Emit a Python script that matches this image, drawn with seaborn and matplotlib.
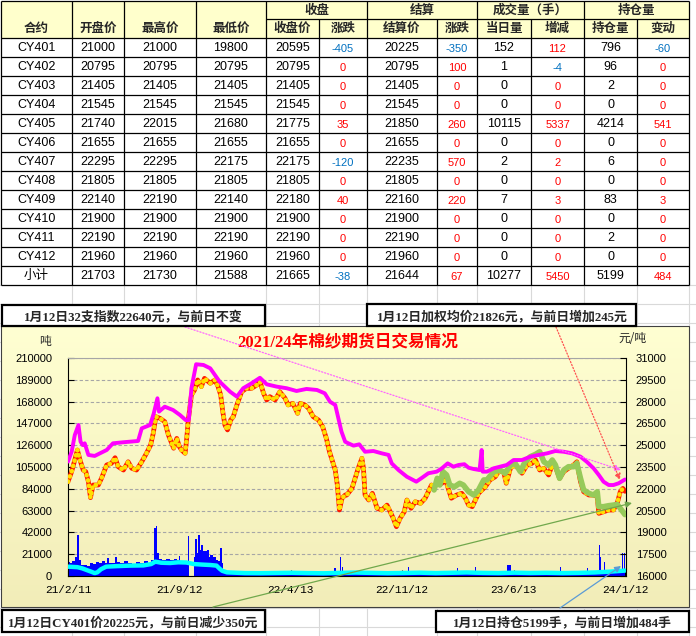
import numpy as np
import pandas as pd
import matplotlib
matplotlib.use("Agg")
import matplotlib.pyplot as plt
import matplotlib.dates as mdates
from matplotlib.patches import Rectangle
from matplotlib.colors import LinearSegmentedColormap
import seaborn as sns

# ---------------- DATA : table ----------------
contracts = ["CY401", "CY402", "CY403", "CY404", "CY405", "CY406", "CY407",
             "CY408", "CY409", "CY410", "CY411", "CY412", "小计"]
open_px = [21000, 20795, 21405, 21545, 21740, 21655, 22295, 21805, 22140, 21900, 22190, 21960, 21703]
high_px = [21000, 20795, 21405, 21545, 22015, 21655, 22295, 21805, 22190, 21900, 22190, 21960, 21730]
low_px = [19800, 20795, 21405, 21545, 21680, 21655, 22175, 21805, 22140, 21900, 22190, 21960, 21588]
close_px = [20595, 20795, 21405, 21545, 21775, 21655, 22175, 21805, 22180, 21900, 22190, 21960, 21665]
close_chg = [-405, 0, 0, 0, 35, 0, -120, 0, 40, 0, 0, 0, -38]
settle_px = [20225, 20795, 21405, 21545, 21850, 21655, 22235, 21805, 22160, 21900, 22190, 21960, 21644]
settle_chg = [-350, 100, 0, 0, 260, 0, 570, 0, 220, 0, 0, 0, 67]
volume = [152, 1, 0, 0, 10115, 0, 2, 0, 7, 0, 0, 0, 10277]
volume_chg = [112, -4, 0, 0, 5337, 0, 2, 0, 3, 0, 0, 0, 5450]
open_int = [796, 96, 2, 0, 4214, 0, 6, 0, 83, 0, 2, 0, 5199]
open_int_chg = [-60, 0, 0, 0, 541, 0, 0, 0, 3, 0, 0, 0, 484]

group_headers = ["收盘", "结算", "成交量（手）", "持仓量"]
col_headers = ["合约", "开盘价", "最高价", "最低价", "收盘价", "涨跌", "结算价", "涨跌",
               "当日量", "增减", "持仓量", "变动"]

# ---------------- DATA : chart texts ----------------
title = "2021/24年棉纱期货日交易情况"
note_index = "1月12日32支指数22640元，与前日不变"
note_avg = "1月12日加权均价21826元，与前日增加245元"
note_cy401 = "1月12日CY401价20225元，与前日减少350元"
note_oi = "1月12日持仓5199手，与前日增加484手"
left_unit = "吨"
right_unit = "元/吨"
xtick_dates = ["2021-02-11", "2021-09-12", "2022-04-13", "2022-11-12", "2023-06-13", "2024-01-12"]
xtick_labels = ["21/2/11", "21/9/12", "22/4/13", "22/11/12", "23/6/13", "24/1/12"]
vol_ticks = [0, 21000, 42000, 63000, 84000, 105000, 126000, 147000, 168000, 189000, 210000]
price_ticks = [16000, 17500, 19000, 20500, 22000, 23500, 25000, 26500, 28000, 29500, 31000]

# ---------------- DATA : 32支指数 (magenta, 元/吨) ----------------
idx_dates = ["2021-02-11", "2021-02-18", "2021-02-24", "2021-03-03", "2021-03-07", "2021-03-11",
             "2021-03-15", "2021-03-22", "2021-04-03", "2021-04-13", "2021-04-26", "2021-05-08",
             "2021-05-27", "2021-06-25", "2021-07-02", "2021-07-18", "2021-07-25", "2021-08-01",
             "2021-08-04", "2021-08-15", "2021-08-31", "2021-09-13", "2021-09-24", "2021-09-30",
             "2021-10-05", "2021-10-14", "2021-10-28", "2021-11-10", "2021-11-28", "2021-12-18",
             "2021-12-31", "2022-01-12", "2022-01-28", "2022-02-13", "2022-02-26", "2022-03-17",
             "2022-04-05", "2022-04-24", "2022-05-13", "2022-06-02", "2022-06-17", "2022-06-27",
             "2022-07-07", "2022-07-13", "2022-07-19", "2022-07-26", "2022-08-01", "2022-08-11",
             "2022-08-22", "2022-09-02", "2022-09-18", "2022-10-04", "2022-10-17", "2022-10-23",
             "2022-11-05", "2022-11-21", "2022-12-09", "2022-12-20", "2023-01-01", "2023-01-17",
             "2023-01-27", "2023-02-07", "2023-02-18", "2023-02-28", "2023-03-11", "2023-03-19",
             "2023-03-29", "2023-04-09", "2023-04-13", "2023-04-15", "2023-04-23", "2023-05-06",
             "2023-05-18", "2023-05-31", "2023-06-13", "2023-06-29", "2023-07-15", "2023-07-31",
             "2023-08-16", "2023-09-01", "2023-09-17", "2023-10-03", "2023-10-19", "2023-10-31",
             "2023-11-13", "2023-11-23", "2023-12-02", "2023-12-12", "2023-12-21", "2023-12-31",
             "2024-01-12"]
idx_vals = [23870, 24550, 25700, 26390, 25240, 25010,
            25130, 24330, 24260, 24440, 24670, 25130,
            25200, 25290, 26160, 26390, 27190, 28230,
            27310, 27650, 27420, 27080, 26730, 26730,
            28920, 30570, 30520, 30290, 29370, 28680,
            28340, 28920, 29260, 29640, 29190, 29030,
            28920, 28730, 28870, 28800, 28570, 27990,
            27770, 26850, 25930, 25240, 25130, 24970,
            25060, 24550, 24600, 24440, 24330, 23750,
            23290, 22830, 22490, 22760, 23070, 23180,
            23410, 23750, 23520, 23640, 23690, 23450,
            23360, 23290, 24670, 23180, 23180, 23410,
            23520, 23640, 23980, 23980, 24210, 24330,
            24440, 24600, 24550, 24440, 24210, 23860,
            23410, 22950, 22490, 22260, 22260, 22380,
            22640]

# ---------------- DATA : 期货加权均价 (red / yellow, 元/吨) ----------------
avg_dates = ["2021-02-11", "2021-02-18", "2021-02-24", "2021-03-01", "2021-03-06", "2021-03-12",
             "2021-03-17", "2021-03-22", "2021-03-26", "2021-03-31", "2021-04-10", "2021-04-16",
             "2021-04-26", "2021-05-05", "2021-05-12", "2021-05-18", "2021-05-28", "2021-06-06",
             "2021-06-13", "2021-06-22", "2021-07-02", "2021-07-11", "2021-07-19", "2021-07-24",
             "2021-07-29", "2021-08-06", "2021-08-15", "2021-08-22", "2021-09-01", "2021-09-07",
             "2021-09-12", "2021-09-16", "2021-09-23", "2021-09-26", "2021-09-29", "2021-10-05",
             "2021-10-11", "2021-10-17", "2021-10-24", "2021-10-30", "2021-11-10", "2021-11-19",
             "2021-11-25", "2021-11-30", "2021-12-04", "2021-12-08", "2021-12-13", "2021-12-19",
             "2021-12-24", "2021-12-31", "2022-01-09", "2022-01-18", "2022-01-28", "2022-02-07",
             "2022-02-13", "2022-02-20", "2022-02-26", "2022-03-04", "2022-03-14", "2022-03-23",
             "2022-04-02", "2022-04-08", "2022-04-17", "2022-04-26", "2022-05-01", "2022-05-10",
             "2022-05-17", "2022-05-26", "2022-06-05", "2022-06-13", "2022-06-20", "2022-06-26",
             "2022-07-02", "2022-07-07", "2022-07-11", "2022-07-15", "2022-07-20", "2022-07-26",
             "2022-07-29", "2022-08-08", "2022-08-14", "2022-08-20", "2022-08-27", "2022-08-30",
             "2022-09-02", "2022-09-09", "2022-09-16", "2022-09-25", "2022-10-04", "2022-10-14",
             "2022-10-20", "2022-10-26", "2022-11-01", "2022-11-08", "2022-11-16", "2022-11-21",
             "2022-11-29", "2022-12-07", "2022-12-17", "2022-12-26", "2023-01-01", "2023-01-07",
             "2023-01-13", "2023-01-20", "2023-01-27", "2023-02-02", "2023-02-08", "2023-02-14",
             "2023-02-24", "2023-03-06", "2023-03-13", "2023-03-19", "2023-03-26", "2023-04-01",
             "2023-04-07", "2023-04-17", "2023-04-20", "2023-04-29", "2023-05-09", "2023-05-15",
             "2023-05-25", "2023-05-30", "2023-06-07", "2023-06-13", "2023-06-23", "2023-06-29",
             "2023-07-09", "2023-07-18", "2023-07-25", "2023-08-02", "2023-08-10", "2023-08-19",
             "2023-08-26", "2023-09-01", "2023-09-09", "2023-09-17", "2023-09-26", "2023-10-06",
             "2023-10-12", "2023-10-19", "2023-10-25", "2023-11-04", "2023-11-13", "2023-11-20",
             "2023-11-23", "2023-12-02", "2023-12-12", "2023-12-21", "2023-12-29", "2024-01-03",
             "2024-01-08", "2024-01-12"]
avg_vals = [22490, 23180, 23980, 24670, 23980, 23290,
            23180, 22490, 21390, 22260, 22260, 22720,
            23640, 23750, 24140, 23520, 23290, 23860,
            23410, 23290, 23860, 24440, 25010, 25820,
            26960, 26850, 26620, 25700, 24790, 25470,
            24900, 24670, 24440, 25470, 26730, 28450,
            28800, 29490, 29030, 29600, 29260, 29490,
            29030, 28450, 27300, 26390, 26050, 26730,
            26960, 27770, 28680, 28910, 28910, 29140,
            29370, 28570, 28110, 28340, 28110, 28680,
            28230, 27770, 27880, 27190, 27880, 27770,
            27540, 26960, 26730, 26270, 25470, 24550,
            23860, 23290, 22260, 20540, 21350, 21570,
            21570, 22030, 22720, 23410, 24100, 23410,
            21570, 21230, 21690, 20660, 20540, 20880,
            20420, 19970, 19390, 19970, 20420, 21230,
            20660, 21110, 21000, 21350, 21800, 22260,
            22140, 22490, 22380, 22720, 22030, 21350,
            21570, 21690, 21350, 20880, 20770, 21230,
            21690, 22030, 22140, 22610, 22830, 23180,
            23180, 22380, 23410, 23640, 23410, 23070,
            23640, 23750, 23980, 23290, 23410, 22950,
            23640, 23520, 22720, 23180, 23410, 23640,
            23860, 22490, 21800, 21570, 21570, 21460,
            20310, 20420, 20540, 20540, 21110, 21800,
            22030, 21826]

# ---------------- DATA : CY401 (green, 元/吨) ----------------
cy401_dates = ["2023-01-12", "2023-01-18", "2023-01-23", "2023-01-29", "2023-02-05", "2023-02-11",
               "2023-02-20", "2023-03-02", "2023-03-09", "2023-03-19", "2023-03-29", "2023-04-07",
               "2023-04-17", "2023-04-23", "2023-05-06", "2023-05-18", "2023-05-28", "2023-06-07",
               "2023-06-16", "2023-06-26", "2023-07-05", "2023-07-15", "2023-07-25", "2023-08-02",
               "2023-08-10", "2023-08-19", "2023-08-26", "2023-09-01", "2023-09-09", "2023-09-17",
               "2023-09-26", "2023-10-06", "2023-10-12", "2023-10-19", "2023-10-25", "2023-11-04",
               "2023-11-13", "2023-11-20", "2023-11-23", "2023-12-02", "2023-12-12", "2023-12-21",
               "2023-12-28", "2024-01-03", "2024-01-12"]
cy401_vals = [21920, 22720, 22260, 23180, 22950, 22260,
              22140, 22380, 22260, 21800, 21570, 21920,
              22610, 22610, 23180, 23290, 23070, 23640,
              23750, 23180, 23860, 24210, 24370, 24550,
              23860, 23640, 23980, 23640, 22720, 23290,
              23520, 23520, 23750, 22720, 21920, 21690,
              21570, 21800, 20770, 20770, 20840, 20880,
              20930, 20660, 20225]

# ---------------- DATA : 成交量 (blue bars, left axis) ----------------
vol_dates = ["2021-02-11", "2021-02-15", "2021-02-19", "2021-02-24", "2021-03-01", "2021-03-04",
             "2021-03-08", "2021-03-14", "2021-03-19", "2021-03-25", "2021-03-31", "2021-04-05",
             "2021-04-11", "2021-04-17", "2021-04-23", "2021-04-26", "2021-04-30", "2021-05-06",
             "2021-05-12", "2021-05-15", "2021-05-21", "2021-05-29", "2021-06-06", "2021-06-13",
             "2021-06-21", "2021-06-29", "2021-07-06", "2021-07-14", "2021-07-20", "2021-07-26",
             "2021-07-29", "2021-08-01", "2021-08-04", "2021-08-10", "2021-08-17", "2021-08-25",
             "2021-09-02", "2021-09-07", "2021-09-11", "2021-09-14", "2021-09-21", "2021-09-29",
             "2021-10-01", "2021-10-10", "2021-10-12", "2021-10-15", "2021-10-18", "2021-10-21",
             "2021-10-24", "2021-10-28", "2021-11-03", "2021-11-07", "2021-11-10", "2021-11-16",
             "2021-11-21", "2021-11-25", "2021-11-29", "2021-12-02", "2021-12-05", "2021-12-10",
             "2021-12-24", "2022-01-07", "2022-01-21", "2022-02-04", "2022-02-18", "2022-03-04",
             "2022-03-18", "2022-04-01", "2022-04-15", "2022-04-29", "2022-05-13", "2022-05-27",
             "2022-06-10", "2022-06-24", "2022-07-05", "2022-07-09", "2022-07-16", "2022-07-18",
             "2022-07-20", "2022-07-22", "2022-08-05", "2022-08-19", "2022-09-02", "2022-09-16",
             "2022-09-30", "2022-10-14", "2022-10-28", "2022-11-11", "2022-11-24", "2022-11-26",
             "2022-12-09", "2022-12-23", "2023-01-06", "2023-01-20", "2023-02-03", "2023-02-17",
             "2023-02-24", "2023-02-26", "2023-03-10", "2023-03-24", "2023-04-01", "2023-04-03",
             "2023-04-14", "2023-04-28", "2023-05-12", "2023-05-26", "2023-06-01", "2023-06-08",
             "2023-06-22", "2023-07-06", "2023-07-20", "2023-08-03", "2023-08-17", "2023-08-31",
             "2023-09-10", "2023-09-12", "2023-09-26", "2023-10-10", "2023-10-24", "2023-11-01",
             "2023-11-03", "2023-11-17", "2023-11-23", "2023-11-25", "2023-11-28", "2023-12-02",
             "2023-12-04", "2023-12-16", "2023-12-30", "2024-01-06", "2024-01-08", "2024-01-11",
             "2024-01-12"]
vol_vals = [13800, 12500, 14500, 18600, 39500, 15000,
            11000, 10600, 9500, 12800, 12000, 13800,
            12500, 14000, 13000, 17000, 13000, 12500,
            18600, 13500, 12800, 14500, 13000, 12000,
            13800, 12500, 14000, 13000, 15000, 45900,
            48100, 22000, 16000, 15500, 16000, 15000,
            16500, 15500, 19600, 14500, 13800, 38500,
            0, 18000, 35300, 22000, 39500, 25000,
            29900, 24000, 25000, 18000, 20200, 18600,
            15400, 14000, 26600, 12800, 6000, 4200,
            3800, 4000, 3600, 3900, 3700, 3500,
            4100, 3800, 3400, 3700, 3900, 3500,
            3800, 4200, 7400, 4500, 18600, 5000,
            8700, 4500, 4000, 4300, 3800, 4100,
            3600, 3900, 4200, 4000, 9000, 4200,
            4500, 4000, 3800, 3600, 4000, 4200,
            7400, 4100, 3900, 4300, 9000, 4200,
            3800, 4000, 4400, 4100, 10600, 4600,
            4200, 3900, 4300, 4000, 3800, 4100,
            9000, 4200, 3900, 4000, 4400, 7400,
            4300, 4600, 29900, 18600, 6000, 13800,
            5500, 4800, 4500, 21900, 6000, 21900,
            10277]

# ---------------- DATA : 持仓量 (cyan, left axis) ----------------
oi_dates = ["2021-02-11", "2021-03-01", "2021-03-10", "2021-03-20", "2021-03-27", "2021-04-03",
            "2021-04-08", "2021-04-15", "2021-04-25", "2021-05-15", "2021-06-10", "2021-07-05",
            "2021-07-20", "2021-07-28", "2021-08-08", "2021-08-25", "2021-09-10", "2021-09-25",
            "2021-10-10", "2021-10-25", "2021-11-10", "2021-11-22", "2021-11-28", "2021-12-03",
            "2021-12-12", "2022-01-15", "2022-02-15", "2022-03-15", "2022-04-15", "2022-05-15",
            "2022-06-15", "2022-07-15", "2022-08-15", "2022-09-15", "2022-10-15", "2022-11-15",
            "2022-12-15", "2023-01-15", "2023-02-15", "2023-03-15", "2023-04-15", "2023-05-15",
            "2023-06-15", "2023-07-15", "2023-08-15", "2023-09-15", "2023-10-15", "2023-11-15",
            "2023-12-15", "2024-01-12"]
oi_vals = [9000, 8500, 7400, 5500, 4200, 2800,
           3500, 6500, 9000, 9500, 10000, 10200,
           11500, 13800, 12800, 12500, 13200, 13000,
           11500, 11000, 10600, 10000, 7000, 5000,
           3500, 2800, 2700, 2900, 3100, 2800,
           2600, 3000, 3300, 3000, 2700, 2900,
           3200, 2800, 3100, 3400, 3000, 2800,
           3200, 2900, 3100, 2800, 3000, 3400,
           4200, 5199]

# ---------------- figure ----------------
sns.set_theme(style="white")
plt.rcParams['font.family'] = ['Liberation Sans', 'Noto Sans CJK SC', 'DejaVu Sans']
CJK = ['Noto Sans CJK SC', 'DejaVu Sans']
NUM = ['Liberation Sans', 'Noto Sans CJK SC']
SERIF_CJK = ['Liberation Serif', 'Noto Sans CJK SC']

W, H = 696, 636
fig = plt.figure(figsize=(W / 100, H / 100), dpi=100)

sheet = fig.add_axes([0, 0, 1, 1])
sheet.axis('off')

# spreadsheet grid lines
COLS = [0.5, 72, 124, 196, 266, 319, 367, 437, 477, 531, 584, 637, 689]
for xg in COLS[1:]:
    sheet.plot([xg, xg], [285, H], color='#D9D9D9', lw=0.8, zorder=0)
for yg in np.arange(285, H, 19):
    sheet.plot([0, W], [yg, yg], color='#D9D9D9', lw=0.8, zorder=0)

# table
ROW0, RH = 38, 19
sheet.add_patch(Rectangle((0.5, 0.5), 688.5, 37.5, fc='#FFFFCC', ec='none', zorder=0.5))
sheet.add_patch(Rectangle((0.5, 38), 688.5, RH * len(contracts), fc='white', ec='none', zorder=0.5))
lk = dict(color='black', lw=0.9, zorder=2, solid_capstyle='butt')
sheet.plot([0.5, 689], [0.7, 0.7], **lk)
sheet.plot([266, 689], [19, 19], **lk)
for k in range(len(contracts) + 1):
    yy = ROW0 + RH * k
    sheet.plot([0.5, 689], [yy, yy], **lk)
for xg in [0.5, 72, 124, 196, 266, 367, 477, 584, 689]:
    sheet.plot([xg, xg], [0.7, ROW0 + RH * len(contracts)], **lk)
for xg in [319, 437, 531, 637]:
    sheet.plot([xg, xg], [19, ROW0 + RH * len(contracts)], **lk)

group_spans = [(266, 367), (367, 477), (477, 584), (584, 689)]
for txt, (a, b) in zip(group_headers, group_spans):
    sheet.text((a + b) / 2, 10, txt, ha='center', va='center', fontsize=9,
               fontweight='bold', family=CJK, zorder=3)
for j, txt in enumerate(col_headers):
    sheet.text((COLS[j] + COLS[j + 1]) / 2, 28.5, txt, ha='center', va='center', fontsize=9,
               fontweight='bold', family=CJK, zorder=3)

for i, name in enumerate(contracts):
    yc = ROW0 + RH * i + RH / 2
    row = [name, open_px[i], high_px[i], low_px[i], close_px[i], close_chg[i],
           settle_px[i], settle_chg[i], volume[i], volume_chg[i], open_int[i], open_int_chg[i]]
    for j, v in enumerate(row):
        xc = (COLS[j] + COLS[j + 1]) / 2
        if j in (5, 7, 9, 11):
            col = '#0070C0' if v < 0 else '#FF0000'
            sheet.text(xc, yc + 1.5, str(v), ha='center', va='center', fontsize=8,
                       color=col, family=NUM, zorder=3)
        else:
            sheet.text(xc, yc + 0.5, str(v), ha='center', va='center', fontsize=9,
                       color='black', family=NUM, zorder=3)

# chart area with gradient
grad = np.linspace(0, 1, 256).reshape(-1, 1)
cmap = LinearSegmentedColormap.from_list('bg', ['#FFFFD2', '#F2EDB8'])
sheet.imshow(grad, extent=(1, 689, 607, 326), cmap=cmap, aspect='auto', zorder=1,
             interpolation='bilinear')
sheet.add_patch(Rectangle((1, 326), 688, 281, fill=False, ec='#404040', lw=0.8, zorder=1.5))
sheet.text(347.5, 343.5, title, ha='center', va='center', fontsize=12, fontweight='bold',
           color='#FF0000', family=SERIF_CJK, zorder=3)
sheet.text(45, 342, left_unit, ha='center', va='center', fontsize=8.5, family=CJK, zorder=3)
sheet.text(632, 338, right_unit, ha='center', va='center', fontsize=8.5, family=CJK, zorder=3)
sheet.set_xlim(0, W)
sheet.set_ylim(H, 0)

# ---------------- plot axes ----------------
ax = fig.add_axes([68 / W, (H - 576) / H, (626 - 68) / W, 218 / H])
ax.patch.set_visible(False)
ax2 = ax.twinx()
ax2.patch.set_visible(False)


def to_num(ds):
    return mdates.date2num(pd.to_datetime(ds))


vx = to_num(vol_dates)
widths = np.append(np.diff(vx), 1.0)
ax.bar(vx, vol_vals, width=widths, align='edge', color='#0000FF', linewidth=0, zorder=2)
sns.lineplot(x=to_num(oi_dates), y=oi_vals, ax=ax, color='#00FFFF', linewidth=3.2,
             estimator=None, sort=False, zorder=3)

# futures weighted average: thick red line with a chain of yellow beads
avg_x = to_num(avg_dates)
sns.lineplot(x=avg_x, y=avg_vals, ax=ax2, color='#FF1A00', linewidth=3.4,
             estimator=None, sort=False, zorder=2)
sns.lineplot(x=avg_x, y=avg_vals, ax=ax2, color='#FFE000', linewidth=3.3,
             estimator=None, sort=False, zorder=2.1)
bead = ax2.lines[-1]
bead.set_dashes([0.05, 1.15])
bead.set_dash_capstyle('round')

sns.lineplot(x=to_num(cy401_dates), y=cy401_vals, ax=ax2, color='#96CA5A', linewidth=4.0,
             estimator=None, sort=False, zorder=3)
sns.lineplot(x=to_num(idx_dates), y=idx_vals, ax=ax2, color='#FF00FF', linewidth=2.8,
             estimator=None, sort=False, zorder=4)

ax.set_xlim(to_num(["2021-02-11"])[0], to_num(["2024-01-14"])[0])
ax.set_ylim(vol_ticks[0], vol_ticks[-1])
ax2.set_ylim(price_ticks[0], price_ticks[-1])
ax.set_yticks(vol_ticks)
ax.set_yticklabels([str(t) for t in vol_ticks])
ax2.set_yticks(price_ticks)
ax2.set_yticklabels([str(t) for t in price_ticks])
ax.set_xticks(to_num(xtick_dates))
ax.set_xticklabels(xtick_labels, family=['Liberation Mono'], fontsize=8)
ax.set_xlabel('')
ax.set_ylabel('')
ax2.set_ylabel('')

ax.tick_params(axis='y', direction='in', length=4, width=0.8, pad=11.5, labelsize=8,
               colors='black', left=True)
ax2.tick_params(axis='y', direction='in', length=4, width=0.8, pad=7, labelsize=8,
                colors='black', right=True)
ax.tick_params(axis='x', direction='in', length=4, width=0.8, pad=6.5, colors='black',
               bottom=True)

ax.yaxis.grid(True, color='#A6A6A6', linestyle=(0, (3, 2)), lw=0.8)
ax.xaxis.grid(False)
ax2.grid(False)
ax.set_axisbelow(True)

for s in ['left', 'bottom']:
    ax.spines[s].set_color('black')
    ax.spines[s].set_linewidth(0.8)
ax.spines['top'].set_color('#A6A6A6')
ax.spines['top'].set_linewidth(0.8)
ax.spines['right'].set_visible(False)
ax2.spines['right'].set_color('black')
ax2.spines['right'].set_linewidth(0.8)
for s in ['left', 'top', 'bottom']:
    ax2.spines[s].set_visible(False)

# ---------------- overlay: notes and arrows ----------------
ov = fig.add_axes([0, 0, 1, 1])
ov.set_xlim(0, W)
ov.set_ylim(H, 0)
ov.axis('off')
ov.patch.set_visible(False)

arrows = [((185, 327), (621, 470), '#FF66FF', (0, (1, 1.5))),
          ((556, 327), (620, 480), '#FF5050', (0, (1, 1.5))),
          ((213, 607), (632, 503), '#70A84C', '-'),
          ((560, 608), (621, 566), '#5B9BD5', '-')]
for (p0, p1, c, ls) in arrows:
    ov.annotate('', xy=p1, xytext=p0,
                arrowprops=dict(arrowstyle='-|>', color=c, lw=0.9, linestyle=ls,
                                mutation_scale=9, shrinkA=0, shrinkB=0), zorder=1)

boxes = [((2, 305, 263, 21), note_index, (133.5, 317.5)),
         ((367, 304, 269, 22), note_avg, (502, 317)),
         ((2, 610, 263, 22), note_cy401, (133.5, 622.5)),
         ((436, 611, 253, 21), note_oi, (562, 622.5))]
for (bx, by, bw, bh), txt, (tx, ty) in boxes:
    ov.add_patch(Rectangle((bx, by), bw, bh, fc='white', ec='black', lw=1.6, zorder=2))
    ov.text(tx, ty, txt, ha='center', va='center', fontsize=9.3, fontweight='bold',
            family=SERIF_CJK, zorder=3)

fig.savefig('out.png', dpi=100)
